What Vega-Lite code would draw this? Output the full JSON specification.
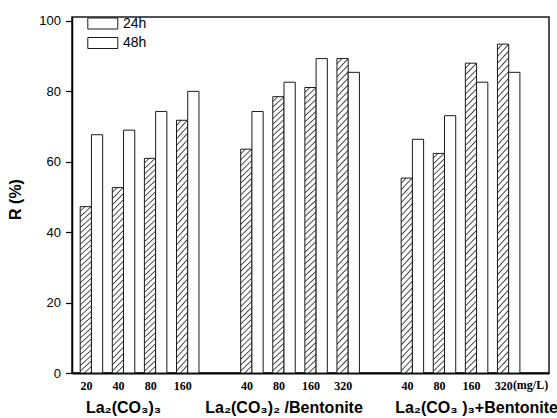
{
 "$schema": "https://vega.github.io/schema/vega-lite/v6.json",
 "width": 477,
 "height": 356,
 "autosize": {"type": "none"},
 "padding": {"left": 72, "top": 17, "right": 8, "bottom": 45},
 "background": "white",
 "config": {"font": "Liberation Sans", "view": {"stroke": "#1a1a1a", "strokeWidth": 1.5}},
 "layer": [
  {
   "data": {"values": [
    {"slot": "A|20", "time": "24h", "R": 47.2}, {"slot": "A|20", "time": "48h", "R": 67.6},
    {"slot": "A|40", "time": "24h", "R": 52.6}, {"slot": "A|40", "time": "48h", "R": 68.9},
    {"slot": "A|80", "time": "24h", "R": 60.9}, {"slot": "A|80", "time": "48h", "R": 74.2},
    {"slot": "A|160", "time": "24h", "R": 71.7}, {"slot": "A|160", "time": "48h", "R": 79.9},
    {"slot": "B|40", "time": "24h", "R": 63.5}, {"slot": "B|40", "time": "48h", "R": 74.2},
    {"slot": "B|80", "time": "24h", "R": 78.4}, {"slot": "B|80", "time": "48h", "R": 82.5},
    {"slot": "B|160", "time": "24h", "R": 81.0}, {"slot": "B|160", "time": "48h", "R": 89.2},
    {"slot": "B|320", "time": "24h", "R": 89.2}, {"slot": "B|320", "time": "48h", "R": 85.3},
    {"slot": "C|40", "time": "24h", "R": 55.3}, {"slot": "C|40", "time": "48h", "R": 66.3},
    {"slot": "C|80", "time": "24h", "R": 62.3}, {"slot": "C|80", "time": "48h", "R": 73.0},
    {"slot": "C|160", "time": "24h", "R": 87.9}, {"slot": "C|160", "time": "48h", "R": 82.5},
    {"slot": "C|320", "time": "24h", "R": 93.3}, {"slot": "C|320", "time": "48h", "R": 85.3}
   ]},
   "mark": {"type": "bar", "stroke": "#1a1a1a", "strokeWidth": 1},
   "encoding": {
    "x": {
     "field": "slot", "type": "nominal",
     "scale": {"domain": ["A|20","A|40","A|80","A|160","gap1","B|40","B|80","B|160","B|320","gap2","C|40","C|80","C|160","C|320"], "paddingInner": 0.3, "paddingOuter": 0.581, "align": 0.22},
     "axis": {"title": null, "ticks": false, "grid": false, "domainColor": "#000", "domainWidth": 2, "labelAngle": 0, "labelFont": "Liberation Serif", "labelFontWeight": "bold", "labelFontSize": 12, "labelColor": "#000", "labelPadding": 7, "labelOffset": -5, "labelExpr": "indexof(datum.value,'|') > 0 ? split(datum.value,'|')[1] : ''"}
    },
    "xOffset": {"field": "time", "type": "nominal", "sort": ["24h", "48h"]},
    "y": {
     "field": "R", "type": "quantitative",
     "scale": {"domain": [0, 101], "nice": false},
     "axis": {"title": "R (%)", "titleFont": "Liberation Sans", "titleFontSize": 16, "titleFontWeight": "bold", "titleColor": "#000", "titleX": -52, "titleY": 182, "titleAngle": -90, "titleBaseline": "alphabetic", "titleAlign": "center",
      "values": [0,10,20,30,40,50,60,70,80,90,100],
      "labelExpr": "datum.value % 20 === 0 ? datum.label : ''",
      "tickSize": {"condition": {"test": "datum.value % 20 === 0", "value": 6.5}, "value": 4},
      "tickColor": "#000", "tickWidth": 1.2, "domainColor": "#000", "domainWidth": 1.5, "labelFont": "Liberation Sans", "labelFontSize": 13, "labelColor": "#000", "labelPadding": 5, "grid": false}
    },
    "fill": {
     "field": "time", "type": "nominal",
     "scale": {"domain": ["24h", "48h"], "range": ["#ffffff", "#ffffff"]},
     "legend": {"title": null, "orient": "none", "legendX": 23.8, "legendY": -0.5, "padding": 0,
      "symbolType": "M-3,-1.1H3V1.1H-3Z", "symbolSize": 100, "symbolStrokeColor": "#1a1a1a", "symbolStrokeWidth": 1,
      "labelFont": "Liberation Sans", "labelFontSize": 14, "labelColor": "#000", "labelOffset": 13.2, "rowPadding": 3.5},
     "condition": [
      {"test": "datum.time === '24h' && datum.R < 58", "value": {"gradient": "linear", "x1": 0, "y1": 0, "x2": 0.0651, "y2": 1.058, "stops": [
       {"offset": 0, "color": "#fff"}, {"offset": 0.01875, "color": "#fff"}, {"offset": 0.025, "color": "#333"},
       {"offset": 0.03125, "color": "#fff"}, {"offset": 0.05, "color": "#fff"}, {"offset": 0.05625, "color": "#333"},
       {"offset": 0.0625, "color": "#fff"}, {"offset": 0.08125, "color": "#fff"}, {"offset": 0.0875, "color": "#333"},
       {"offset": 0.09375, "color": "#fff"}, {"offset": 0.1125, "color": "#fff"}, {"offset": 0.11875, "color": "#333"},
       {"offset": 0.125, "color": "#fff"}, {"offset": 0.14375, "color": "#fff"}, {"offset": 0.15, "color": "#333"},
       {"offset": 0.15625, "color": "#fff"}, {"offset": 0.175, "color": "#fff"}, {"offset": 0.18125, "color": "#333"},
       {"offset": 0.1875, "color": "#fff"}, {"offset": 0.20625, "color": "#fff"}, {"offset": 0.2125, "color": "#333"},
       {"offset": 0.21875, "color": "#fff"}, {"offset": 0.2375, "color": "#fff"}, {"offset": 0.24375, "color": "#333"},
       {"offset": 0.25, "color": "#fff"}, {"offset": 0.26875, "color": "#fff"}, {"offset": 0.275, "color": "#333"},
       {"offset": 0.28125, "color": "#fff"}, {"offset": 0.3, "color": "#fff"}, {"offset": 0.30625, "color": "#333"},
       {"offset": 0.3125, "color": "#fff"}, {"offset": 0.33125, "color": "#fff"}, {"offset": 0.3375, "color": "#333"},
       {"offset": 0.34375, "color": "#fff"}, {"offset": 0.3625, "color": "#fff"}, {"offset": 0.36875, "color": "#333"},
       {"offset": 0.375, "color": "#fff"}, {"offset": 0.39375, "color": "#fff"}, {"offset": 0.4, "color": "#333"},
       {"offset": 0.40625, "color": "#fff"}, {"offset": 0.425, "color": "#fff"}, {"offset": 0.43125, "color": "#333"},
       {"offset": 0.4375, "color": "#fff"}, {"offset": 0.45625, "color": "#fff"}, {"offset": 0.4625, "color": "#333"},
       {"offset": 0.46875, "color": "#fff"}, {"offset": 0.4875, "color": "#fff"}, {"offset": 0.49375, "color": "#333"},
       {"offset": 0.5, "color": "#fff"}, {"offset": 0.51875, "color": "#fff"}, {"offset": 0.525, "color": "#333"},
       {"offset": 0.53125, "color": "#fff"}, {"offset": 0.55, "color": "#fff"}, {"offset": 0.55625, "color": "#333"},
       {"offset": 0.5625, "color": "#fff"}, {"offset": 0.58125, "color": "#fff"}, {"offset": 0.5875, "color": "#333"},
       {"offset": 0.59375, "color": "#fff"}, {"offset": 0.6125, "color": "#fff"}, {"offset": 0.61875, "color": "#333"},
       {"offset": 0.625, "color": "#fff"}, {"offset": 0.64375, "color": "#fff"}, {"offset": 0.65, "color": "#333"},
       {"offset": 0.65625, "color": "#fff"}, {"offset": 0.675, "color": "#fff"}, {"offset": 0.68125, "color": "#333"},
       {"offset": 0.6875, "color": "#fff"}, {"offset": 0.70625, "color": "#fff"}, {"offset": 0.7125, "color": "#333"},
       {"offset": 0.71875, "color": "#fff"}, {"offset": 0.7375, "color": "#fff"}, {"offset": 0.74375, "color": "#333"},
       {"offset": 0.75, "color": "#fff"}, {"offset": 0.76875, "color": "#fff"}, {"offset": 0.775, "color": "#333"},
       {"offset": 0.78125, "color": "#fff"}, {"offset": 0.8, "color": "#fff"}, {"offset": 0.80625, "color": "#333"},
       {"offset": 0.8125, "color": "#fff"}, {"offset": 0.83125, "color": "#fff"}, {"offset": 0.8375, "color": "#333"},
       {"offset": 0.84375, "color": "#fff"}, {"offset": 0.8625, "color": "#fff"}, {"offset": 0.86875, "color": "#333"},
       {"offset": 0.875, "color": "#fff"}, {"offset": 0.89375, "color": "#fff"}, {"offset": 0.9, "color": "#333"},
       {"offset": 0.90625, "color": "#fff"}, {"offset": 0.925, "color": "#fff"}, {"offset": 0.93125, "color": "#333"},
       {"offset": 0.9375, "color": "#fff"}, {"offset": 0.95625, "color": "#fff"}, {"offset": 0.9625, "color": "#333"},
       {"offset": 0.96875, "color": "#fff"}, {"offset": 0.9875, "color": "#fff"}, {"offset": 0.99375, "color": "#333"},
       {"offset": 1, "color": "#fff"}]}},
      {"test": "datum.time === '24h' && datum.R >= 58 && datum.R < 76", "value": {"gradient": "linear", "x1": 0, "y1": 0, "x2": 0.0514, "y2": 1.0465, "stops": [
       {"offset": 0, "color": "#fff"}, {"offset": 0.015, "color": "#fff"}, {"offset": 0.02, "color": "#333"},
       {"offset": 0.025, "color": "#fff"}, {"offset": 0.04, "color": "#fff"}, {"offset": 0.045, "color": "#333"},
       {"offset": 0.05, "color": "#fff"}, {"offset": 0.065, "color": "#fff"}, {"offset": 0.07, "color": "#333"},
       {"offset": 0.075, "color": "#fff"}, {"offset": 0.09, "color": "#fff"}, {"offset": 0.095, "color": "#333"},
       {"offset": 0.1, "color": "#fff"}, {"offset": 0.115, "color": "#fff"}, {"offset": 0.12, "color": "#333"},
       {"offset": 0.125, "color": "#fff"}, {"offset": 0.14, "color": "#fff"}, {"offset": 0.145, "color": "#333"},
       {"offset": 0.15, "color": "#fff"}, {"offset": 0.165, "color": "#fff"}, {"offset": 0.17, "color": "#333"},
       {"offset": 0.175, "color": "#fff"}, {"offset": 0.19, "color": "#fff"}, {"offset": 0.195, "color": "#333"},
       {"offset": 0.2, "color": "#fff"}, {"offset": 0.215, "color": "#fff"}, {"offset": 0.22, "color": "#333"},
       {"offset": 0.225, "color": "#fff"}, {"offset": 0.24, "color": "#fff"}, {"offset": 0.245, "color": "#333"},
       {"offset": 0.25, "color": "#fff"}, {"offset": 0.265, "color": "#fff"}, {"offset": 0.27, "color": "#333"},
       {"offset": 0.275, "color": "#fff"}, {"offset": 0.29, "color": "#fff"}, {"offset": 0.295, "color": "#333"},
       {"offset": 0.3, "color": "#fff"}, {"offset": 0.315, "color": "#fff"}, {"offset": 0.32, "color": "#333"},
       {"offset": 0.325, "color": "#fff"}, {"offset": 0.34, "color": "#fff"}, {"offset": 0.345, "color": "#333"},
       {"offset": 0.35, "color": "#fff"}, {"offset": 0.365, "color": "#fff"}, {"offset": 0.37, "color": "#333"},
       {"offset": 0.375, "color": "#fff"}, {"offset": 0.39, "color": "#fff"}, {"offset": 0.395, "color": "#333"},
       {"offset": 0.4, "color": "#fff"}, {"offset": 0.415, "color": "#fff"}, {"offset": 0.42, "color": "#333"},
       {"offset": 0.425, "color": "#fff"}, {"offset": 0.44, "color": "#fff"}, {"offset": 0.445, "color": "#333"},
       {"offset": 0.45, "color": "#fff"}, {"offset": 0.465, "color": "#fff"}, {"offset": 0.47, "color": "#333"},
       {"offset": 0.475, "color": "#fff"}, {"offset": 0.49, "color": "#fff"}, {"offset": 0.495, "color": "#333"},
       {"offset": 0.5, "color": "#fff"}, {"offset": 0.515, "color": "#fff"}, {"offset": 0.52, "color": "#333"},
       {"offset": 0.525, "color": "#fff"}, {"offset": 0.54, "color": "#fff"}, {"offset": 0.545, "color": "#333"},
       {"offset": 0.55, "color": "#fff"}, {"offset": 0.565, "color": "#fff"}, {"offset": 0.57, "color": "#333"},
       {"offset": 0.575, "color": "#fff"}, {"offset": 0.59, "color": "#fff"}, {"offset": 0.595, "color": "#333"},
       {"offset": 0.6, "color": "#fff"}, {"offset": 0.615, "color": "#fff"}, {"offset": 0.62, "color": "#333"},
       {"offset": 0.625, "color": "#fff"}, {"offset": 0.64, "color": "#fff"}, {"offset": 0.645, "color": "#333"},
       {"offset": 0.65, "color": "#fff"}, {"offset": 0.665, "color": "#fff"}, {"offset": 0.67, "color": "#333"},
       {"offset": 0.675, "color": "#fff"}, {"offset": 0.69, "color": "#fff"}, {"offset": 0.695, "color": "#333"},
       {"offset": 0.7, "color": "#fff"}, {"offset": 0.715, "color": "#fff"}, {"offset": 0.72, "color": "#333"},
       {"offset": 0.725, "color": "#fff"}, {"offset": 0.74, "color": "#fff"}, {"offset": 0.745, "color": "#333"},
       {"offset": 0.75, "color": "#fff"}, {"offset": 0.765, "color": "#fff"}, {"offset": 0.77, "color": "#333"},
       {"offset": 0.775, "color": "#fff"}, {"offset": 0.79, "color": "#fff"}, {"offset": 0.795, "color": "#333"},
       {"offset": 0.8, "color": "#fff"}, {"offset": 0.815, "color": "#fff"}, {"offset": 0.82, "color": "#333"},
       {"offset": 0.825, "color": "#fff"}, {"offset": 0.84, "color": "#fff"}, {"offset": 0.845, "color": "#333"},
       {"offset": 0.85, "color": "#fff"}, {"offset": 0.865, "color": "#fff"}, {"offset": 0.87, "color": "#333"},
       {"offset": 0.875, "color": "#fff"}, {"offset": 0.89, "color": "#fff"}, {"offset": 0.895, "color": "#333"},
       {"offset": 0.9, "color": "#fff"}, {"offset": 0.915, "color": "#fff"}, {"offset": 0.92, "color": "#333"},
       {"offset": 0.925, "color": "#fff"}, {"offset": 0.94, "color": "#fff"}, {"offset": 0.945, "color": "#333"},
       {"offset": 0.95, "color": "#fff"}, {"offset": 0.965, "color": "#fff"}, {"offset": 0.97, "color": "#333"},
       {"offset": 0.975, "color": "#fff"}, {"offset": 0.99, "color": "#fff"}, {"offset": 0.995, "color": "#333"},
       {"offset": 1, "color": "#fff"}]}},
      {"test": "datum.time === '24h' && datum.R >= 76", "value": {"gradient": "linear", "x1": 0, "y1": 0, "x2": 0.0383, "y2": 1.0356, "stops": [
       {"offset": 0, "color": "#fff"}, {"offset": 0.012, "color": "#fff"}, {"offset": 0.016, "color": "#333"},
       {"offset": 0.02, "color": "#fff"}, {"offset": 0.032, "color": "#fff"}, {"offset": 0.036, "color": "#333"},
       {"offset": 0.04, "color": "#fff"}, {"offset": 0.052, "color": "#fff"}, {"offset": 0.056, "color": "#333"},
       {"offset": 0.06, "color": "#fff"}, {"offset": 0.072, "color": "#fff"}, {"offset": 0.076, "color": "#333"},
       {"offset": 0.08, "color": "#fff"}, {"offset": 0.092, "color": "#fff"}, {"offset": 0.096, "color": "#333"},
       {"offset": 0.1, "color": "#fff"}, {"offset": 0.112, "color": "#fff"}, {"offset": 0.116, "color": "#333"},
       {"offset": 0.12, "color": "#fff"}, {"offset": 0.132, "color": "#fff"}, {"offset": 0.136, "color": "#333"},
       {"offset": 0.14, "color": "#fff"}, {"offset": 0.152, "color": "#fff"}, {"offset": 0.156, "color": "#333"},
       {"offset": 0.16, "color": "#fff"}, {"offset": 0.172, "color": "#fff"}, {"offset": 0.176, "color": "#333"},
       {"offset": 0.18, "color": "#fff"}, {"offset": 0.192, "color": "#fff"}, {"offset": 0.196, "color": "#333"},
       {"offset": 0.2, "color": "#fff"}, {"offset": 0.212, "color": "#fff"}, {"offset": 0.216, "color": "#333"},
       {"offset": 0.22, "color": "#fff"}, {"offset": 0.232, "color": "#fff"}, {"offset": 0.236, "color": "#333"},
       {"offset": 0.24, "color": "#fff"}, {"offset": 0.252, "color": "#fff"}, {"offset": 0.256, "color": "#333"},
       {"offset": 0.26, "color": "#fff"}, {"offset": 0.272, "color": "#fff"}, {"offset": 0.276, "color": "#333"},
       {"offset": 0.28, "color": "#fff"}, {"offset": 0.292, "color": "#fff"}, {"offset": 0.296, "color": "#333"},
       {"offset": 0.3, "color": "#fff"}, {"offset": 0.312, "color": "#fff"}, {"offset": 0.316, "color": "#333"},
       {"offset": 0.32, "color": "#fff"}, {"offset": 0.332, "color": "#fff"}, {"offset": 0.336, "color": "#333"},
       {"offset": 0.34, "color": "#fff"}, {"offset": 0.352, "color": "#fff"}, {"offset": 0.356, "color": "#333"},
       {"offset": 0.36, "color": "#fff"}, {"offset": 0.372, "color": "#fff"}, {"offset": 0.376, "color": "#333"},
       {"offset": 0.38, "color": "#fff"}, {"offset": 0.392, "color": "#fff"}, {"offset": 0.396, "color": "#333"},
       {"offset": 0.4, "color": "#fff"}, {"offset": 0.412, "color": "#fff"}, {"offset": 0.416, "color": "#333"},
       {"offset": 0.42, "color": "#fff"}, {"offset": 0.432, "color": "#fff"}, {"offset": 0.436, "color": "#333"},
       {"offset": 0.44, "color": "#fff"}, {"offset": 0.452, "color": "#fff"}, {"offset": 0.456, "color": "#333"},
       {"offset": 0.46, "color": "#fff"}, {"offset": 0.472, "color": "#fff"}, {"offset": 0.476, "color": "#333"},
       {"offset": 0.48, "color": "#fff"}, {"offset": 0.492, "color": "#fff"}, {"offset": 0.496, "color": "#333"},
       {"offset": 0.5, "color": "#fff"}, {"offset": 0.512, "color": "#fff"}, {"offset": 0.516, "color": "#333"},
       {"offset": 0.52, "color": "#fff"}, {"offset": 0.532, "color": "#fff"}, {"offset": 0.536, "color": "#333"},
       {"offset": 0.54, "color": "#fff"}, {"offset": 0.552, "color": "#fff"}, {"offset": 0.556, "color": "#333"},
       {"offset": 0.56, "color": "#fff"}, {"offset": 0.572, "color": "#fff"}, {"offset": 0.576, "color": "#333"},
       {"offset": 0.58, "color": "#fff"}, {"offset": 0.592, "color": "#fff"}, {"offset": 0.596, "color": "#333"},
       {"offset": 0.6, "color": "#fff"}, {"offset": 0.612, "color": "#fff"}, {"offset": 0.616, "color": "#333"},
       {"offset": 0.62, "color": "#fff"}, {"offset": 0.632, "color": "#fff"}, {"offset": 0.636, "color": "#333"},
       {"offset": 0.64, "color": "#fff"}, {"offset": 0.652, "color": "#fff"}, {"offset": 0.656, "color": "#333"},
       {"offset": 0.66, "color": "#fff"}, {"offset": 0.672, "color": "#fff"}, {"offset": 0.676, "color": "#333"},
       {"offset": 0.68, "color": "#fff"}, {"offset": 0.692, "color": "#fff"}, {"offset": 0.696, "color": "#333"},
       {"offset": 0.7, "color": "#fff"}, {"offset": 0.712, "color": "#fff"}, {"offset": 0.716, "color": "#333"},
       {"offset": 0.72, "color": "#fff"}, {"offset": 0.732, "color": "#fff"}, {"offset": 0.736, "color": "#333"},
       {"offset": 0.74, "color": "#fff"}, {"offset": 0.752, "color": "#fff"}, {"offset": 0.756, "color": "#333"},
       {"offset": 0.76, "color": "#fff"}, {"offset": 0.772, "color": "#fff"}, {"offset": 0.776, "color": "#333"},
       {"offset": 0.78, "color": "#fff"}, {"offset": 0.792, "color": "#fff"}, {"offset": 0.796, "color": "#333"},
       {"offset": 0.8, "color": "#fff"}, {"offset": 0.812, "color": "#fff"}, {"offset": 0.816, "color": "#333"},
       {"offset": 0.82, "color": "#fff"}, {"offset": 0.832, "color": "#fff"}, {"offset": 0.836, "color": "#333"},
       {"offset": 0.84, "color": "#fff"}, {"offset": 0.852, "color": "#fff"}, {"offset": 0.856, "color": "#333"},
       {"offset": 0.86, "color": "#fff"}, {"offset": 0.872, "color": "#fff"}, {"offset": 0.876, "color": "#333"},
       {"offset": 0.88, "color": "#fff"}, {"offset": 0.892, "color": "#fff"}, {"offset": 0.896, "color": "#333"},
       {"offset": 0.9, "color": "#fff"}, {"offset": 0.912, "color": "#fff"}, {"offset": 0.916, "color": "#333"},
       {"offset": 0.92, "color": "#fff"}, {"offset": 0.932, "color": "#fff"}, {"offset": 0.936, "color": "#333"},
       {"offset": 0.94, "color": "#fff"}, {"offset": 0.952, "color": "#fff"}, {"offset": 0.956, "color": "#333"},
       {"offset": 0.96, "color": "#fff"}, {"offset": 0.972, "color": "#fff"}, {"offset": 0.976, "color": "#333"},
       {"offset": 0.98, "color": "#fff"}, {"offset": 0.992, "color": "#fff"}, {"offset": 0.996, "color": "#333"},
       {"offset": 1, "color": "#fff"}]}}
     ]
    }
   }
  },
  {
   "data": {"values": [
    {"slot": "A|40", "label": "La₂(CO₃)₃"},
    {"slot": "B|80", "label": "La₂(CO₃)₂ /Bentonite"},
    {"slot": "C|160", "label": "La₂(CO₃ )₃+Bentonite"}
   ]},
   "mark": {"type": "text", "font": "Liberation Sans", "fontSize": 16, "fontWeight": "bold", "baseline": "alphabetic", "align": "center", "dy": 40, "color": "#000"},
   "encoding": {
    "x": {"field": "slot", "type": "nominal", "title": null},
    "y": {"datum": 0, "type": "quantitative"},
    "text": {"field": "label"}
   }
  },
  {
   "data": {"values": [{"slot": "C|320", "note": "(mg/L)"}]},
   "mark": {"type": "text", "font": "Liberation Serif", "fontSize": 12, "fontWeight": "bold", "baseline": "top", "align": "left", "dx": 4.2, "dy": 7, "color": "#000"},
   "encoding": {
    "x": {"field": "slot", "type": "nominal", "title": null},
    "y": {"datum": 0, "type": "quantitative"},
    "text": {"field": "note"}
   }
  }
 ]
}
